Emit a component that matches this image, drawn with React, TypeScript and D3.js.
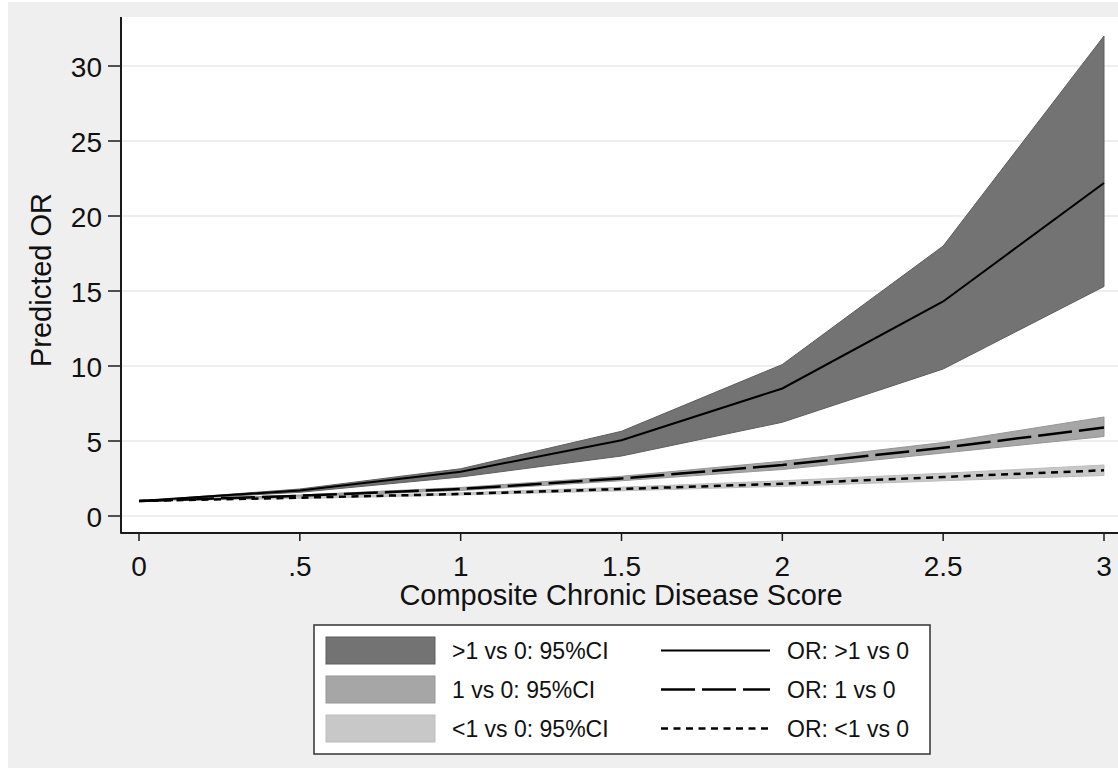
import React, { useEffect, useRef } from 'react';
import * as d3 from 'd3';

// Composite chronic disease score (x) and predicted odds ratios
const scores = [0, 0.5, 1, 1.5, 2, 2.5, 3];

const orHigh = [1, 1.7, 2.95, 5.05, 8.5, 14.3, 22.2];
const ciHighLo = [1, 1.58, 2.6, 4.0, 6.25, 9.8, 15.3];
const ciHighHi = [1, 1.8, 3.15, 5.65, 10.1, 18.0, 32.0];

const orMid = [1, 1.35, 1.8, 2.5, 3.4, 4.55, 5.9];
const ciMidLo = [1, 1.3, 1.7, 2.35, 3.1, 4.2, 5.3];
const ciMidHi = [1, 1.4, 1.9, 2.65, 3.65, 4.9, 6.6];

const orLow = [1, 1.22, 1.47, 1.8, 2.15, 2.6, 3.05];
const ciLowLo = [1, 1.17, 1.4, 1.68, 1.98, 2.35, 2.7];
const ciLowHi = [1, 1.27, 1.55, 1.92, 2.35, 2.85, 3.4];

const xTicks = [0, 0.5, 1, 1.5, 2, 2.5, 3];
const xTickLabels = ['0', '.5', '1', '1.5', '2', '2.5', '3'];
const yTicks = [0, 5, 10, 15, 20, 25, 30];

const bandLabels = ['>1 vs 0: 95%CI', '1 vs 0: 95%CI', '<1 vs 0: 95%CI'];
const lineLabels = ['OR: >1 vs 0', 'OR: 1 vs 0', 'OR: <1 vs 0'];

const FONT = '"Liberation Sans", Arial, sans-serif';

const App = () => {
  const ref = useRef<SVGSVGElement>(null);

  useEffect(() => {
    if (!ref.current) return;
    const W = 1118, H = 768;
    const svg = d3.select(ref.current);
    svg.selectAll('*').remove();

    const plot = { left: 121, right: 1118, top: 17, bottom: 533 };

    const x = d3.scaleLinear().domain([0, 3]).range([139, 1104]);
    const y = d3.scaleLinear().domain([0, 30]).range([516, 66]);

    svg.append('rect').attr('width', W).attr('height', H).attr('fill', '#ffffff');
    svg.append('rect').attr('x', 8).attr('y', 2).attr('width', W - 8).attr('height', H - 2).attr('fill', '#efefef');
    svg.append('rect')
      .attr('x', plot.left).attr('y', plot.top)
      .attr('width', plot.right - plot.left).attr('height', plot.bottom - plot.top)
      .attr('fill', '#ffffff');

    // gridlines
    svg.append('g').selectAll('line').data(yTicks).enter().append('line')
      .attr('x1', plot.left).attr('x2', plot.right)
      .attr('y1', d => y(d)).attr('y2', d => y(d))
      .attr('stroke', '#e8e8e8').attr('stroke-width', 1.5);

    const bands = [
      { lo: ciHighLo, hi: ciHighHi, fill: '#737373', stroke: '#5e5e5e' },
      { lo: ciMidLo, hi: ciMidHi, fill: '#a6a6a6', stroke: '#969696' },
      { lo: ciLowLo, hi: ciLowHi, fill: '#c8c8c8', stroke: '#bdbdbd' },
    ];
    const lines = [
      { v: orHigh, dash: null, width: 2 },
      { v: orMid, dash: '34 7', width: 2.5 },
      { v: orLow, dash: '7 5.5', width: 2.5 },
    ];

    const area = d3.area<number>()
      .x((_, i) => x(scores[i]));

    bands.forEach(b => {
      svg.append('path')
        .attr('d', area.y0((_, i) => y(b.lo[i])).y1((_, i) => y(b.hi[i]))(scores))
        .attr('fill', b.fill)
        .attr('stroke', b.stroke)
        .attr('stroke-width', 1);
    });

    const line = d3.line<number>().x((_, i) => x(scores[i]));
    lines.forEach(l => {
      const p = svg.append('path')
        .attr('d', line.y(d => y(d))(l.v))
        .attr('fill', 'none')
        .attr('stroke', '#000')
        .attr('stroke-width', l.width);
      if (l.dash) p.attr('stroke-dasharray', l.dash);
    });

    // axes
    svg.append('line').attr('x1', plot.left).attr('x2', plot.left)
      .attr('y1', plot.top).attr('y2', plot.bottom + 0.75)
      .attr('stroke', '#1a1a1a').attr('stroke-width', 2);
    svg.append('line').attr('x1', plot.left).attr('x2', plot.right)
      .attr('y1', plot.bottom).attr('y2', plot.bottom)
      .attr('stroke', '#1a1a1a').attr('stroke-width', 2);

    const yAxis = svg.append('g');
    yTicks.forEach(t => {
      yAxis.append('line').attr('x1', 108).attr('x2', plot.left)
        .attr('y1', y(t)).attr('y2', y(t)).attr('stroke', '#1a1a1a').attr('stroke-width', 1.5);
      yAxis.append('text').attr('x', 102).attr('y', y(t) + 11)
        .attr('text-anchor', 'end').attr('font-family', FONT).attr('font-size', 28)
        .attr('fill', '#111').text(String(t));
    });

    const xAxis = svg.append('g');
    xTicks.forEach((t, i) => {
      xAxis.append('line').attr('x1', x(t)).attr('x2', x(t))
        .attr('y1', plot.bottom).attr('y2', 541).attr('stroke', '#1a1a1a').attr('stroke-width', 1.5);
      xAxis.append('text').attr('x', x(t)).attr('y', 576)
        .attr('text-anchor', 'middle').attr('font-family', FONT).attr('font-size', 28)
        .attr('fill', '#111').text(xTickLabels[i]);
    });

    svg.append('text').attr('x', 621).attr('y', 605)
      .attr('text-anchor', 'middle').attr('font-family', FONT).attr('font-size', 29)
      .attr('fill', '#111').text('Composite Chronic Disease Score');

    svg.append('text').attr('transform', 'translate(51,280) rotate(-90)')
      .attr('text-anchor', 'middle').attr('font-family', FONT).attr('font-size', 29)
      .attr('fill', '#111').text('Predicted OR');

    // legend
    const lg = svg.append('g');
    lg.append('rect').attr('x', 314).attr('y', 625).attr('width', 616).attr('height', 129)
      .attr('fill', '#ffffff').attr('stroke', '#333').attr('stroke-width', 1.5);
    const rowY = [650.5, 689.5, 728.5];
    bands.forEach((b, i) => {
      lg.append('rect').attr('x', 326).attr('y', rowY[i] - 13.5).attr('width', 109).attr('height', 27)
        .attr('fill', b.fill).attr('stroke', b.stroke).attr('stroke-width', 1);
      lg.append('text').attr('x', 452).attr('y', rowY[i] + 8)
        .attr('font-family', FONT).attr('font-size', 23).attr('fill', '#111').text(bandLabels[i]);
    });
    lines.forEach((l, i) => {
      const s = lg.append('line').attr('x1', 661).attr('x2', 770)
        .attr('y1', rowY[i]).attr('y2', rowY[i])
        .attr('stroke', '#000').attr('stroke-width', l.width);
      if (l.dash) s.attr('stroke-dasharray', l.dash);
      lg.append('text').attr('x', 787).attr('y', rowY[i] + 8)
        .attr('font-family', FONT).attr('font-size', 23).attr('fill', '#111').text(lineLabels[i]);
    });
  }, []);

  return (
    <svg ref={ref} width={1118} height={768}
      style={{ position: 'absolute', left: 0, top: 0, display: 'block' }} />
  );
};

export default App;
